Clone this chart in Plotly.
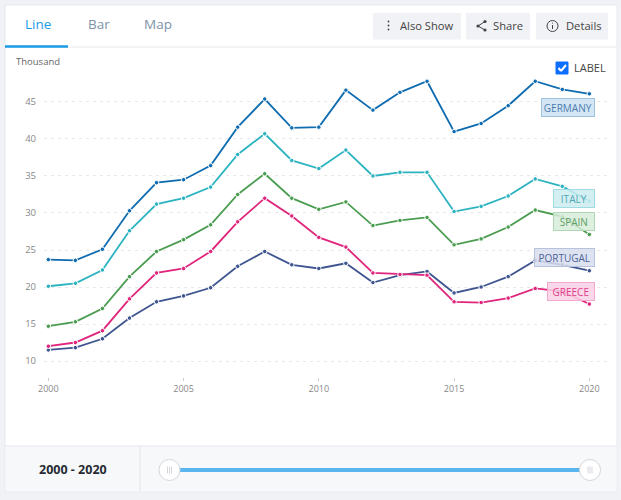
import plotly.graph_objects as go

W = 621
H = 500

years = list(range(2000, 2021))
germany = [23.7, 23.6, 25.1, 30.3, 34.1, 34.5, 36.4, 41.6, 45.4, 41.5, 41.6, 46.6, 43.9, 46.3, 47.8, 41.0, 42.1, 44.5, 47.8, 46.7, 46.1]
italy = [20.1, 20.5, 22.3, 27.6, 31.2, 32.0, 33.5, 37.9, 40.7, 37.1, 36.0, 38.5, 35.0, 35.5, 35.5, 30.2, 30.9, 32.3, 34.6, 33.6, 31.6]
spain = [14.7, 15.3, 17.1, 21.4, 24.8, 26.4, 28.4, 32.5, 35.3, 32.0, 30.5, 31.5, 28.3, 29.0, 29.4, 25.7, 26.5, 28.1, 30.4, 29.5, 27.1]
portugal = [11.5, 11.8, 13.0, 15.8, 18.0, 18.8, 19.9, 22.8, 24.8, 23.0, 22.5, 23.2, 20.6, 21.6, 22.1, 19.2, 20.0, 21.4, 23.6, 23.0, 22.2]
greece = [12.0, 12.5, 14.1, 18.4, 21.9, 22.5, 24.8, 28.8, 32.0, 29.6, 26.7, 25.4, 21.9, 21.7, 21.6, 18.0, 17.9, 18.5, 19.8, 19.4, 17.7]

x_ticks = [2000, 2005, 2010, 2015, 2020]
y_ticks = [10, 15, 20, 25, 30, 35, 40, 45]

FONT = "Open Sans"
BLUE = "#1a9be6"


# pixel position on the page -> paper coordinates
def px(x):
    return x / W


def py(y):
    return 1 - y / H


def box(x0, y0, x1, y1, fill, line="rgba(0,0,0,0)", width=1):
    return dict(type="rect", xref="paper", yref="paper", x0=px(x0), x1=px(x1), y0=py(y0), y1=py(y1),
                fillcolor=fill, line=dict(color=line, width=width), layer="below")


def seg(x0, y0, x1, y1, color, width=1, layer="above"):
    return dict(type="line", xref="paper", yref="paper", x0=px(x0), x1=px(x1), y0=py(y0), y1=py(y1),
                line=dict(color=color, width=width), layer=layer)


def circle(cx, cy, r, fill, line="rgba(0,0,0,0)", width=1):
    return dict(type="circle", xref="paper", yref="paper", x0=px(cx - r), x1=px(cx + r), y0=py(cy - r), y1=py(cy + r),
                fillcolor=fill, line=dict(color=line, width=width), layer="above")


def text(x, y, s, size=12, color="#444444", anchor="left", bold=False):
    return dict(xref="paper", yref="paper", x=px(x), y=py(y), text="<b>%s</b>" % s if bold else s,
                showarrow=False, xanchor=anchor, yanchor="middle", borderpad=0,
                font=dict(family=FONT, size=size, color=color))


def tag(x0, y0, x1, y1, s, color, fill, border):
    return dict(xref="paper", yref="paper", x=px(x1), y=py((y0 + y1) / 2), text=s, showarrow=False,
                xanchor="right", yanchor="middle", width=x1 - x0 - 2, height=y1 - y0 - 2, align="center",
                valign="middle", bgcolor=fill, bordercolor=border, borderwidth=1, borderpad=0,
                font=dict(family=FONT, size=10, color=color))


fig = go.Figure()

series = [
    ("Germany", germany, "#0f6cb0"),
    ("Italy", italy, "#2cb3c0"),
    ("Spain", spain, "#4a9c50"),
    ("Portugal", portugal, "#3f5590"),
    ("Greece", greece, "#e0257c"),
]
for name, values, color in series:
    fig.add_trace(go.Scatter(
        x=years, y=values, name=name, mode="lines+markers",
        line=dict(color=color, width=1.8),
        marker=dict(color=color, size=4.5, line=dict(color="white", width=1)),
    ))

shapes = [
    # card, tabs, buttons
    box(5, 5, 617, 492, "white", "#e6e9ee"),
    seg(5, 47, 617, 47, "#e8eaee", 1, "below"),
    seg(5, 46.5, 68, 46.5, BLUE, 2.5),
    box(373, 13, 461, 39.5, "#f1f2f5"),
    box(466, 13, 530, 39.5, "#f1f2f5"),
    box(536, 13, 608, 39.5, "#f1f2f5"),
    # also show dots
    circle(388.5, 21.5, 0.9, "#444444"),
    circle(388.5, 25.5, 0.9, "#444444"),
    circle(388.5, 29.5, 0.9, "#444444"),
    # share icon
    seg(478, 26, 485, 21.5, "#444444", 1),
    seg(478, 26, 485, 30, "#444444", 1),
    circle(478, 26, 1.6, "#444444"),
    circle(485, 21.5, 1.6, "#444444"),
    circle(485, 30, 1.6, "#444444"),
    # details icon
    circle(552.5, 26, 5.5, "rgba(0,0,0,0)", "#444444", 1),
    seg(552.5, 25, 552.5, 29, "#444444", 1),
    circle(552.5, 23, 0.6, "#444444"),
    # label checkbox
    dict(type="rect", xref="paper", yref="paper", x0=px(556), x1=px(568), y0=py(62), y1=py(74),
         fillcolor="#0d6efd", line=dict(color="#0d6efd", width=1), layer="above"),
    seg(558.5, 68, 561, 71, "white", 2),
    seg(561, 71, 566, 65, "white", 2),
    # footer
    box(6, 446, 616, 491, "#f7f8fa"),
    seg(5, 446, 617, 446, "#e3e6ea", 1, "below"),
    seg(140, 446, 140, 492, "#e3e6ea", 1, "below"),
    seg(170, 470, 590, 470, "#5ab4ee", 4),
    circle(169.5, 470, 10.5, "white", "#d3d7de", 1),
    circle(590, 470, 10.5, "white", "#d3d7de", 1),
]
for cx in (169.5, 590):
    for dx in (-2, 0, 2):
        shapes.append(seg(cx + dx, 466.5, cx + dx, 473.5, "#c9cdd4", 0.8))

annotations = [
    text(24, 24, "Line", 13.5, BLUE),
    text(87, 24, "Bar", 13.5, "#7d93a8"),
    text(143, 24, "Map", 13.5, "#7d93a8"),
    text(399, 25.5, "Also Show", 11.2),
    text(492, 25.5, "Share", 11.2),
    text(565, 25.5, "Details", 11.2),
    text(15, 61.5, "Thousand", 9.5, "#666666"),
    text(573, 67.5, "LABEL", 11, "#444444"),
    text(72.5, 469, "2000 - 2020", 12.5, "#262b33", "center", True),
    tag(541, 98, 594.5, 117, "GERMANY", "#4a7fb0", "rgba(207,226,243,0.9)", "#9cc3e0"),
    tag(553, 189, 594.5, 208, "ITALY", "#50a9b5", "rgba(205,236,240,0.85)", "#9fdbe2"),
    tag(553, 212, 594.5, 231, "SPAIN", "#5f9f66", "rgba(215,236,216,0.85)", "#b0d6b3"),
    tag(534, 248, 594.5, 267, "PORTUGAL", "#4f6498", "rgba(216,222,238,0.85)", "#b8c2dc"),
    tag(547, 281.5, 594.5, 300.5, "GREECE", "#dc3f8b", "rgba(250,209,229,0.85)", "#f3a8cd"),
]

fig.update_layout(
    width=W,
    height=H,
    autosize=False,
    margin=dict(l=0, r=0, t=0, b=0, autoexpand=False),
    paper_bgcolor="#f0f2f6",
    plot_bgcolor="rgba(0,0,0,0)",
    showlegend=False,
    hovermode=False,
    shapes=shapes,
    annotations=annotations,
    font=dict(family=FONT),
    xaxis=dict(
        domain=[px(44), px(608)],
        range=[1999.84, 2020.69],
        tickvals=x_ticks,
        ticks="outside",
        ticklen=3,
        tickcolor="#cccccc",
        tickfont=dict(size=9, color="#888888"),
        showgrid=False,
        zeroline=False,
        showline=False,
    ),
    yaxis=dict(
        domain=[py(377), py(70)],
        range=[7.84, 49.32],
        tickvals=y_ticks,
        ticks="",
        ticklabelstandoff=7,
        tickfont=dict(size=9.5, color="#888888"),
        showgrid=True,
        gridcolor="#e8e8e8",
        griddash="3px,4px",
        gridwidth=1,
        zeroline=False,
        showline=False,
    ),
)

fig.write_html("out.html", config={"displayModeBar": False}, post_script="document.body.style.margin='0';")
